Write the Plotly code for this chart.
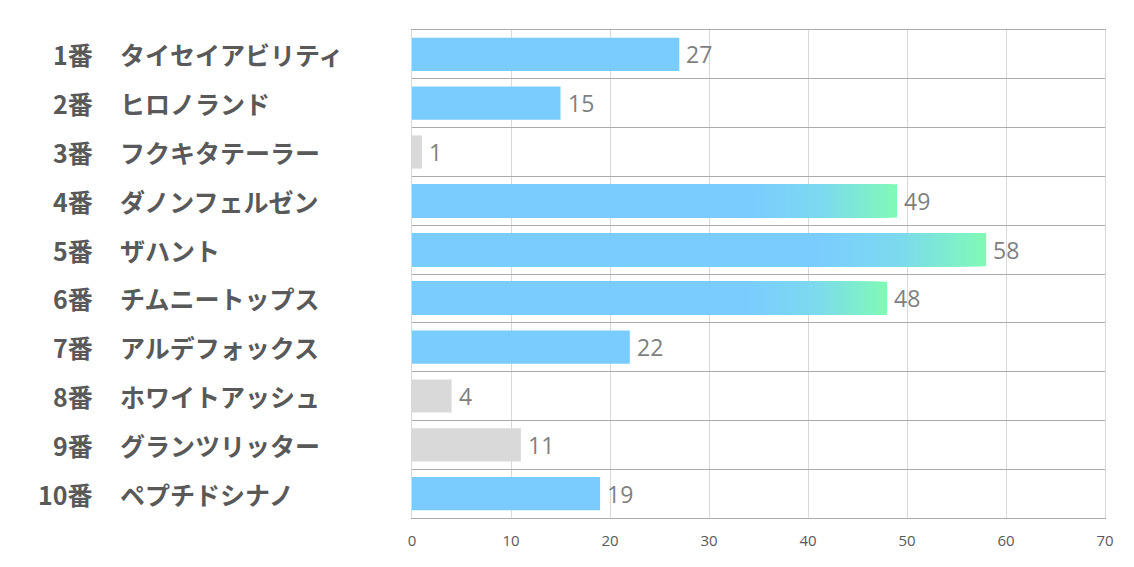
import plotly.graph_objects as go

numbers = ["1番", "2番", "3番", "4番", "5番", "6番", "7番", "8番", "9番", "10番"]
names = ["タイセイアビリティ", "ヒロノランド", "フクキタテーラー", "ダノンフェルゼン", "ザハント",
         "チムニートップス", "アルデフォックス", "ホワイトアッシュ", "グランツリッター", "ペプチドシナノ"]
values = [27, 15, 1, 49, 58, 48, 22, 4, 11, 19]
styles = ["blue", "blue", "gray", "grad", "grad", "grad", "blue", "gray", "gray", "blue"]
x_ticks = [0, 10, 20, 30, 40, 50, 60, 70]

BLUE = (122, 204, 255)
MID = (124, 218, 238)
GREEN = (128, 250, 182)
GRAY = "#D9D9D9"
GRAD_START = 0.70
NSEG = 40

def rgb(c):
    return "rgb(%d,%d,%d)" % tuple(int(round(v)) for v in c)

def grad_color(t):
    if t < 0.5:
        a, b, u = BLUE, MID, t / 0.5
    else:
        a, b, u = MID, GREEN, (t - 0.5) / 0.5
    return tuple(a[j] + (b[j] - a[j]) * u for j in range(3))

fig = go.Figure()
ys = list(range(len(values)))

# plain bars
for style, color in (("blue", rgb(BLUE)), ("gray", GRAY)):
    idx = [i for i, s in enumerate(styles) if s == style]
    fig.add_trace(go.Bar(x=[values[i] for i in idx], y=[ys[i] for i in idx], orientation="h",
                         marker=dict(color=color, line=dict(width=0)), width=0.68,
                         hoverinfo="skip"))

# gradient bars: nested bars from 0, longest (greenest) drawn first
for i, s in enumerate(styles):
    if s != "grad":
        continue
    v = values[i]
    x0 = v * GRAD_START
    seg = (v - x0) / NSEG
    bx, bc = [], []
    for k in range(NSEG, 0, -1):
        t = (k - 0.5) / NSEG
        bx.append(x0 + k * seg)
        bc.append(rgb(grad_color(t)))
    bx.append(x0)
    bc.append(rgb(BLUE))
    fig.add_trace(go.Bar(x=bx, y=[i] * len(bx), orientation="h",
                         marker=dict(color=bc, line=dict(width=0)), width=0.68,
                         hoverinfo="skip"))

annotations = []
for i in range(len(values)):
    annotations.append(dict(x=values[i], y=i, xref="x", yref="y", text=str(values[i]),
                            xanchor="left", yanchor="middle", showarrow=False, xshift=5,
                            font=dict(family="Open Sans", size=23, color="#7F7F7F")))
    annotations.append(dict(x=-0.4575, y=i, xref="paper", yref="y", text="<b>%s</b>" % numbers[i],
                            xanchor="right", yanchor="middle", showarrow=False,
                            font=dict(family="Noto Sans CJK JP", size=25, color="#595959")))
    annotations.append(dict(x=-0.4245, y=i, xref="paper", yref="y", text="<b>%s</b>" % names[i],
                            xanchor="left", yanchor="middle", showarrow=False,
                            font=dict(family="Noto Sans CJK JP", size=25, color="#595959")))

fig.update_layout(
    width=1118, height=551,
    margin=dict(l=404, r=21, t=22, b=41),
    paper_bgcolor="white", plot_bgcolor="white",
    barmode="overlay", showlegend=False,
    annotations=annotations,
    xaxis=dict(range=[0, 70], tickvals=x_ticks, showgrid=True, gridcolor="#D9D9D9", gridwidth=1,
               zeroline=False, showline=True, mirror=True, linecolor="#ABABAB", linewidth=1,
               ticks="", ticklabelstandoff=9, automargin=False,
               tickfont=dict(family="Liberation Sans Narrow, Open Sans", size=15, color="#595959")),
    yaxis=dict(range=[9.5, -0.5], tickvals=[k - 0.5 for k in range(len(values) + 1)],
               showticklabels=False, showgrid=True, gridcolor="#ABABAB", gridwidth=1,
               zeroline=False, showline=True, mirror=True, linecolor="#D9D9D9", ticks="",
               automargin=False),
)

fig.write_html("out.html")
